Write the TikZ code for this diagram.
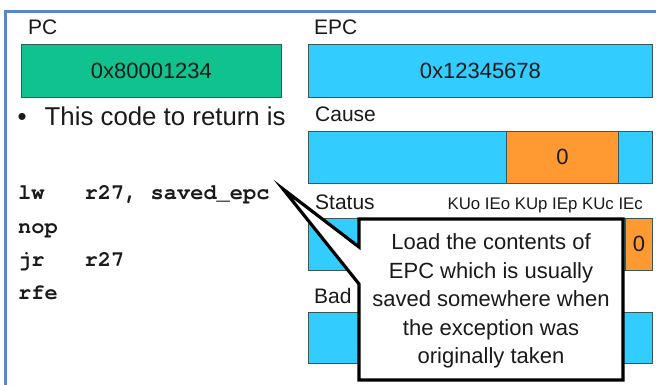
\documentclass[tikz,border=0pt]{standalone}
\usepackage{fontspec}
\setmainfont{Liberation Sans}
\newfontfamily\codefont{texgyrecursor}[Extension=.otf, UprightFont=*-regular, BoldFont=*-bold]
\usetikzlibrary{calc}
\definecolor{framecol}{HTML}{5A85C8}
\definecolor{pcgreen}{HTML}{10C28E}
\definecolor{regblue}{HTML}{33CCFF}
\definecolor{regorange}{HTML}{FF9A33}
\definecolor{regedge}{HTML}{3A5858}
\definecolor{ink}{HTML}{1A1A1A}
\begin{document}
\begin{tikzpicture}[x=1pt,y=-1pt,
  reg/.style={draw=regedge, line width=0.8pt, inner sep=0pt, anchor=north west,
    text=ink, font=\fontsize{22}{22}\selectfont},
  lbl/.style={anchor=base west, inner sep=0pt, text=ink, font=\fontsize{21}{21}\selectfont},
  code/.style={anchor=base west, inner sep=0pt, text=ink,
    font=\codefont\bfseries\fontsize{22}{22}\selectfont},
  bubble/.style={fill=white, draw=black, line width=3.2pt, line join=miter},
  notetext/.style={align=center, inner sep=0pt, text=ink,
    font=\fontsize{22}{28.5}\selectfont}]
\useasboundingbox (0,0) rectangle (656,385);
\fill[white] (0,0) rectangle (656,385);

% slide frame, cut off at the right and bottom edges
\draw[framecol, line width=2.6pt] (656,11.3) -- (5.5,11.3) -- (5.5,385);

% PC register
\node[lbl] (pclbl) at (28,35) {PC};
\node[reg, fill=pcgreen, minimum width=260, minimum height=53] (pc) at (21,44) {0x80001234};

% EPC register
\node[lbl] (epclbl) at (314,35) {EPC};
\node[reg, fill=regblue, minimum width=344, minimum height=53] (epc) at (308,44) {0x12345678};

% bullet line
\node[anchor=base west, inner sep=0pt, text=ink, font=\fontsize{25.8}{26}\selectfont]
  (bullet) at (17.5,126) {\textbullet\hspace{18pt}This code to return is};

% Cause register
\node[lbl] (causelbl) at (315,122) {Cause};
\node[reg, fill=regblue, minimum width=198, minimum height=52] (causea) at (308,131) {};
\node[reg, fill=regorange, minimum width=112, minimum height=52] (causeb) at (506,131) {0};
\node[reg, fill=regblue, minimum width=34, minimum height=52] (causec) at (618,131) {};

% Status register
\node[lbl] (statuslbl) at (315,209) {Status};
\node[anchor=base east, inner sep=0pt, text=ink, font=\fontsize{16.8}{17}\selectfont]
  (bits) at (643,209) {KUo IEo KUp IEp KUc IEc};
\node[reg, fill=regblue, minimum width=317, minimum height=52] (statusa) at (308,218) {};
\node[reg, fill=regorange, minimum width=27, minimum height=52] (statusb) at (625,218) {0};

% BadVAddr register
\node[lbl] (badlbl) at (314,303) {Bad};
\node[reg, fill=regblue, minimum width=344, minimum height=51] (bad) at (308,312) {};

% return sequence
\node[code] (c1a) at (18,200) {lw};
\node[code] (c1b) at (84.5,200) {r27,~saved\_epc};
\node[code] (c2) at (18,233) {nop};
\node[code] (c3a) at (18,266) {jr};
\node[code] (c3b) at (84.5,266) {r27};
\node[code] (c4) at (18,299) {rfe};

% callout with its pointer
\coordinate (nw) at (359,219);
\coordinate (se) at (623,380);
\coordinate (tip) at (283,189);
\draw[bubble] (nw) -- (nw -| se) -- (se) -- (se -| nw) -- (359,284) -- (tip) -- (359,247) -- cycle;
\node[notetext] (note) at ($(nw)!0.5!(se)+(0,1.5)$)
  {Load the contents of\\EPC which is usually\\saved somewhere when\\the exception was\\originally taken};
\end{tikzpicture}
\end{document}
